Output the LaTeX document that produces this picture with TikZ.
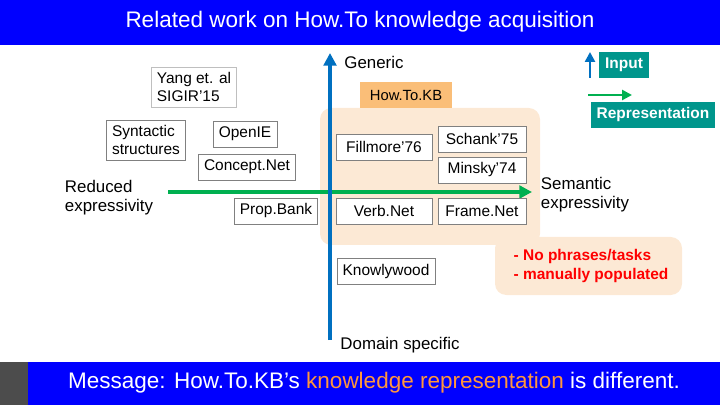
\documentclass[tikz,border=0pt]{standalone}
\usepackage{fontspec}
\setmainfont{Liberation Sans}
\usetikzlibrary{arrows.meta,positioning}
\definecolor{barblue}{RGB}{0,0,255}
\definecolor{axblue}{RGB}{0,112,192}
\definecolor{axgreen}{RGB}{0,176,80}
\definecolor{teal}{RGB}{0,150,140}
\definecolor{peach}{RGB}{252,233,213}
\definecolor{orng}{RGB}{250,190,120}
\definecolor{msgorange}{RGB}{255,150,60}
\tikzset{
	work/.style={draw=gray,fill=white,inner sep=4pt,minimum height=0.65cm,font=\fontsize{11}{12.5}\selectfont,align=left},
	legend/.style={fill=teal,text=white,font=\bfseries\fontsize{11}{12}\selectfont,inner sep=4pt},
	axlabel/.style={font=\fontsize{12}{13.5}\selectfont,align=left},
	axarrow/.style={-{Triangle[width=9pt,length=9pt]},line width=2.5pt}
}
\begin{document}
\begin{tikzpicture}[x=0.025cm,y=-0.025cm]
	\useasboundingbox (0,0) rectangle (720,405);
	%%%% bars
	\fill[barblue] (0,0) rectangle (720,45);
	\node[text=white,font=\fontsize{16}{18}\selectfont] (title) at (360,22) {Related work on How.To knowledge acquisition};
	\fill[barblue] (0,362) rectangle (720,405);
	\fill[black!70] (0,362) rectangle (28,405);
	\node[text=white,font=\fontsize{16}{18}\selectfont] (msg) at (374,383) {Message: How.To.KB's \textcolor{msgorange}{knowledge representation} is different.};
	%%%% shaded regions
	\fill[peach,rounded corners=8pt] (320,108) rectangle (540,245);
	\fill[peach,rounded corners=8pt] (495,237) rectangle (682,295);
	\node[text=red,font=\bfseries\fontsize{11}{13.5}\selectfont,align=left] (note) at (591,266) {- No phrases/tasks\\- manually populated};
	%%%% axes
	\coordinate (vbot) at (330,340);
	\coordinate (vtop) at (330,53);
	\coordinate (hleft) at (168,192);
	\coordinate (hright) at (532,192);
	\draw[axarrow,axgreen] (hleft) -- (hright);
	\draw[axarrow,axblue] (vbot) -- (vtop);
	\node[axlabel] (gen) at (374,62) {Generic};
	\node[axlabel] (dom) at (400,345) {Domain specific};
	\node[axlabel,anchor=west] (sem) at (536,195) {Semantic\\expressivity};
	\node[axlabel,anchor=west] (red) at (60,198) {Reduced\\expressivity};
	%%%% works
	\node[work,draw=lightgray] (yang) at (194,87) {Yang et. al\\SIGIR'15};
	\node[work] (syn) at (146,140) {Syntactic\\structures};
	\node[work] (oie) at (245,134) {OpenIE};
	\node[work] (cnet) at (247,167) {Concept.Net};
	\node[work] (pbank) at (276,211) {Prop.Bank};
	\node[work,minimum width=2.4cm] (fill) at (384,147) {Fillmore'76};
	\node[work,minimum width=2.2cm] (schank) at (482,139) {Schank'75};
	\node[work,minimum width=2.2cm] (minsky) at (482,170) {Minsky'74};
	\node[work,minimum width=2.4cm] (vnet) at (384,211) {Verb.Net};
	\node[work,minimum width=2.2cm] (fnet) at (482,211) {Frame.Net};
	\node[work,minimum width=2.45cm] (kw) at (386,271) {Knowlywood};
	\node[fill=orng,font=\fontsize{10.5}{12}\selectfont,minimum width=2.3cm,minimum height=0.65cm] (kb) at (406,95) {How.To.KB};
	%%%% legend
	\node[legend] (inp) at (624,65) {Input};
	\node[legend] (rep) at (653,115) {Representation};
	\coordinate (ia) at (590,78);
	\coordinate (ib) at (590,52);
	\coordinate (ra) at (588,95);
	\coordinate (rb) at (632,95);
	\draw[-{Triangle[width=7pt,length=7pt]},line width=2pt,axblue] (ia) -- (ib);
	\draw[-{Triangle[width=7pt,length=7pt]},line width=2pt,axgreen] (ra) -- (rb);
\end{tikzpicture}
\end{document}
